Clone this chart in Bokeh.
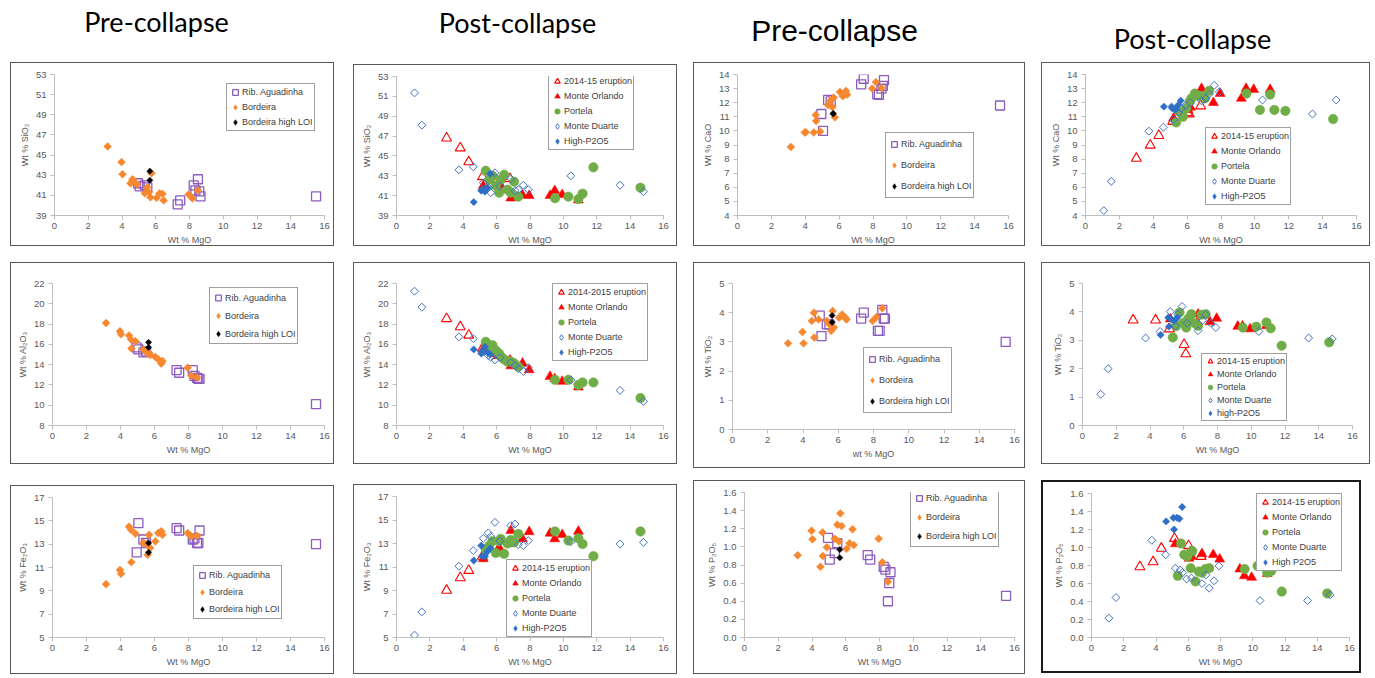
import math
from bokeh.plotting import figure
from bokeh.layouts import column, row
from bokeh.models import Range1d, FixedTicker, Legend, LegendItem, Label, NumeralTickFormatter
from bokeh.embed import file_html
from bokeh.resources import INLINE

nan = float("nan")

# ---------------- Pre-collapse data ----------------
RIB_MGO = [4.95, 5.05, 5.35, 5.5, 7.3, 7.45, 8.25, 8.35, 8.5, 8.58, 8.65, 15.5]
RIB_SIO2 = [42.2, 41.9, 42.0, 41.8, 40.1, 40.5, 42.0, 41.5, 42.6, 41.4, 40.9, 40.9]
RIB_CAO = [11.2, 10.0, 12.2, 12.1, 13.3, 13.7, 12.6, 12.55, 13.0, 13.2, 13.6, 11.8]
RIB_AL2O3 = [15.7, 15.5, 15.2, 15.3, 13.45, 13.2, 13.45, 12.9, 12.7, 12.6, 12.6, 10.1]
RIB_TIO2 = [3.9, 3.2, 3.6, 3.6, 3.8, 4.0, 3.38, 3.38, 4.1, 3.8, 3.8, 3.0]
RIB_FE2O3 = [12.3, 14.8, 13.4, 13.1, 14.37, 14.17, 13.4, 13.5, 13.1, 13.1, 14.17, 13.0]
RIB_P2O5 = [1.10, 0.86, 0.93, 1.04, 0.91, 0.86, 0.78, 0.75, 0.40, 0.60, 0.72, 0.46]

BOR_MGO = [3.15, 3.97, 4.03, 4.5, 4.62, 4.64, 4.88, 5.35, 5.5, 5.6, 5.68, 5.75, 6.05, 6.22, 6.4, 6.47, 7.95, 8.17, 8.5]
BOR_SIO2 = [45.85, 44.3, 43.1, 42.2, 42.6, 42.5, 42.1, 41.2, 41.8, 41.3, 40.8, 43.2, 40.75, 41.2, 41.15, 40.5, 41.1, 40.7, 41.5]
BOR_CAO = [8.86, 9.89, 9.9, 9.89, 11.13, 10.7, 9.96, 11.83, 12.18, 11.7, 12.36, 10.96, 12.76, 12.46, 12.83, 12.57, 13.0, 13.46, 13.04]
BOR_AL2O3 = [18.1, 17.3, 17.0, 16.87, 16.48, 15.6, 16.3, 15.5, 15.3, 15.1, 15.17, 14.95, 14.75, 14.52, 14.1, 14.36, 13.7, 12.9, 12.73]
BOR_TIO2 = [2.95, 3.34, 2.95, 3.72, 4.0, 3.15, 3.77, 3.72, 3.6, 3.38, 4.06, 3.49, 3.83, 3.94, 3.83, 3.77, 3.72, 3.85, 4.15]
BOR_FE2O3 = [9.57, 10.79, 10.47, 14.5, 14.23, 11.46, 13.9, 13.1, 13.0, 12.1, 13.8, 12.68, 13.24, 13.95, 14.1, 13.8, 13.95, 13.67, 13.72]
BOR_P2O5 = [0.907, 1.177, 1.084, 0.78, 1.16, 0.9, 0.995, 1.09, 1.245, 1.06, 1.37, 1.23, 0.978, 1.04, 1.195, 1.02, 1.09, 0.83, 0.615]

LOI_MGO = [5.65, 5.65]
LOI_SIO2 = [43.4, 42.5]
LOI_CAO = [11.25, 11.2]
LOI_AL2O3 = [16.2, 15.7]
LOI_TIO2 = [3.9, 3.67]
LOI_FE2O3 = [13.1, 12.3]
LOI_P2O5 = [0.97, 0.88]

# ---------------- Post-collapse data ----------------
ERU_MGO = [3.0, 3.82, 4.33, 5.15, 6.02, 6.12, 6.8]
ERU_SIO2 = [46.8, 45.8, 44.4, 42.9, 42.5, 42.3, 42.7]
ERU_CAO = [8.05, 8.98, 9.67, 10.67, 11.3, 11.2, 11.77]
ERU_AL2O3 = [18.53, 17.72, 16.9, 15.6, 15.1, 14.9, 14.4]
ERU_TIO2 = [3.71, nan, 3.71, 3.4, 2.85, 2.52, 3.6]
ERU_FE2O3 = [9.01, 10.08, 10.7, 11.9, 12.31, 12.2, 13.0]
ERU_P2O5 = [0.785, 0.84, 0.99, 1.10, 1.02, 0.95, 0.9]

MO_MGO = [5.2, 6.05, 6.2, 6.85, 7.55, 7.95, 9.2, 9.48, 9.93, 10.9]
MO_SIO2 = [42.0, 42.0, 42.1, 40.75, 41.05, 41.0, 41.0, 41.5, 41.1, 40.55]
MO_CAO = [10.9, 11.49, 11.67, 13.0, 12.0, 12.65, 12.3, 13.0, 12.93, 12.93]
MO_AL2O3 = [15.5, 15.2, 15.0, 13.87, 14.13, 13.48, 12.83, 12.6, 12.34, 11.78]
MO_TIO2 = [3.75, 3.6, 3.65, 3.92, 3.65, 3.77, 3.49, 3.5, 3.40, 3.51]
MO_FE2O3 = [11.69, 12.3, 12.54, 14.1, 13.39, 14.0, 13.87, 13.39, 13.75, 14.03]
MO_P2O5 = [1.04, 0.88, 0.9, 0.93, 0.92, 0.87, 0.76, 0.685, 0.667, 0.71]

POR_MGO = [5.35, 5.55, 5.75, 5.95, 6.15, 6.25, 6.45, 6.65, 6.85, 7.05, 7.3, 9.5, 10.3, 10.9, 11.15, 11.8, 14.62]
POR_SIO2 = [43.5, 42.6, 43.0, 42.0, 41.3, 42.6, 43.1, 41.6, 41.3, 42.4, 40.9, 40.75, 40.9, 40.65, 41.2, 43.85, 41.8]
POR_CAO = [10.6, 11.37, 11.0, 11.6, 12.07, 12.3, 12.65, 12.5, 12.47, 12.3, 12.84, 12.65, 11.49, 12.58, 11.49, 11.42, 10.84]
POR_AL2O3 = [16.25, 15.76, 15.92, 15.4, 15.1, 14.78, 14.52, 14.3, 14.3, 14.13, 13.8, 12.5, 12.5, 12.0, 12.24, 12.24, 10.7]
POR_TIO2 = [3.1, 3.5, 3.98, 3.6, 3.45, 3.75, 3.92, 3.6, 3.51, 3.9, 3.92, 3.45, 3.48, 3.63, 3.42, 2.81, 2.93]
POR_FE2O3 = [12.5, 12.8, 13.2, 12.2, 13.2, 13.39, 12.12, 13.0, 13.3, 13.1, 13.81, 14.03, 13.25, 13.44, 12.96, 11.92, 14.03]
POR_P2O5 = [0.685, 1.044, 0.92, 0.9, 0.77, 0.96, 0.622, 0.733, 0.72, 0.76, 0.77, 0.76, 0.796, 0.72, 0.74, 0.51, 0.49]

MD_MGO = [1.08, 1.52, 3.74, 4.6, 5.2, 5.5, 5.65, 5.9, 6.2, 6.85, 7.1, 7.3, 7.6, 7.9, 10.45, 13.4, 14.8]
MD_SIO2 = [51.35, 48.1, 43.6, 43.9, 42.3, 41.8, 41.3, 43.3, 42.0, 42.7, 41.5, 41.6, 42.05, 41.6, 43.0, 42.05, 41.4]
MD_CAO = [4.35, 6.42, 9.98, 10.26, 10.8, 11.3, 11.6, 11.8, 12.0, 12.14, 12.3, 12.6, 13.23, 12.77, 12.19, 11.2, 12.19]
MD_AL2O3 = [21.24, 19.67, 16.74, 16.58, 15.3, 14.9, 14.72, 14.46, 14.7, 14.2, 13.9, 13.6, 13.32, 13.7, 12.5, 11.46, 10.38]
MD_TIO2 = [1.1, 2.0, 3.08, 3.31, 4.01, 3.5, 3.91, 4.19, 3.6, 3.34, 3.7, 3.9, 3.6, 3.45, 3.31, 3.08, 3.05]
MD_FE2O3 = [5.2, 7.18, 11.07, 12.4, 13.44, 13.9, 13.6, 14.8, 13.2, 14.52, 14.66, 12.9, 12.82, 13.25, 13.16, 12.96, 13.1]
MD_P2O5 = [0.215, 0.444, 1.08, 0.92, 0.77, 0.75, 0.72, 0.65, 0.66, 0.6, 0.696, 0.548, 0.63, 0.796, 0.41, 0.41, 0.474]

HP_MGO = [4.63, 5.08, 5.12, 5.3, 5.45, 5.62]
HP_SIO2 = [40.35, 41.5, 41.6, 41.4, 41.8, 43.2]
HP_CAO = [11.72, 11.72, 11.6, 11.49, 11.8, 12.14]
HP_AL2O3 = [15.5, 15.1, 15.3, 15.76, 15.2, 15.0]
HP_TIO2 = [3.19, 3.8, 3.48, 3.72, 3.7, 3.8]
HP_FE2O3 = [11.55, 12.82, 11.92, 11.92, 12.31, 12.6]
HP_P2O5 = [1.29, 1.33, 1.2, 1.33, 1.32, 1.45]

TITLES = ["Pre-collapse", "Post-collapse", "Pre-collapse", "Post-collapse"]
PRE_LABELS = ["Rib. Aguadinha", "Bordeira", "Bordeira high LOI"]

# ---------------- styles ----------------
FONT = "Liberation Sans"
TXT = "#595959"
AXC = "#BFBFBF"
D45 = math.pi / 4

ST_RIB = dict(marker="square", size=9, fill_alpha=0, line_color="#8C5BBE", line_width=1.3)
ST_BOR = dict(marker="square", size=5.6, angle=D45, fill_color="#F7882F", line_color="#F7882F", line_width=0.5)
ST_LOI = dict(marker="square", size=4.4, angle=D45, fill_color="#000000", line_color="#000000", line_width=0.5)
ST_ERU = dict(marker="triangle", size=10, fill_alpha=0, line_color="#FF0000", line_width=1.1)
ST_MO = dict(marker="triangle", size=10, fill_color="#FF0000", line_color="#FF0000", line_width=0.5)
ST_POR = dict(marker="circle", size=9.5, fill_color="#70AD47", line_color="#70AD47", line_width=0.5)
ST_MD = dict(marker="square", size=5.6, angle=D45, fill_alpha=0, line_color="#4472C4", line_width=1.0)
ST_HP = dict(marker="square", size=5.2, angle=D45, fill_color="#2E6FC6", line_color="#2E6FC6", line_width=0.5)


def legend_style(st):
    s = dict(st)
    if "angle" in s:
        s.pop("angle")
        s["marker"] = "diamond"
    s.pop("size", None)
    return s


def make_panel(outer, inner, yr, ystep, ylabel, xlabel, series, leg, fmt=None,
               border="1px solid #595959"):
    ox0, oy0, ox1, oy1 = outer
    ix0, iy0, ix1, iy1 = inner
    p = figure(width=ox1 - ox0, height=oy1 - oy0,
               x_range=Range1d(0, 16), y_range=Range1d(yr[0], yr[1]),
               output_backend="svg", toolbar_location=None,
               min_border_left=ix0 - ox0, min_border_right=ox1 - ix1,
               min_border_top=iy0 - oy0, min_border_bottom=oy1 - iy1,
               background_fill_color="white", border_fill_color="white")
    p.outline_line_color = None
    p.grid.visible = False
    p.styles = {"border": border}
    n = int(round((yr[1] - yr[0]) / ystep))
    yt = [round(yr[0] + i * ystep, 3) for i in range(n + 1)]
    p.xaxis.ticker = FixedTicker(ticks=list(range(0, 17, 2)))
    p.yaxis.ticker = FixedTicker(ticks=yt)
    if fmt:
        p.yaxis.formatter = NumeralTickFormatter(format=fmt)
    for ax in (p.xaxis[0], p.yaxis[0]):
        ax.axis_line_color = AXC
        ax.major_tick_line_color = AXC
        ax.major_tick_out = 4
        ax.major_tick_in = 0
        ax.minor_tick_line_color = None
        ax.major_label_text_font = FONT
        ax.major_label_text_font_size = "9.5px"
        ax.major_label_text_color = TXT
        ax.axis_label_text_font = FONT
        ax.axis_label_text_font_size = "9px"
        ax.axis_label_text_font_style = "normal"
        ax.axis_label_text_color = TXT
        ax.axis_label_standoff = 3
    p.xaxis.major_label_standoff = 3
    p.yaxis.major_label_standoff = 4
    p.xaxis.axis_label = xlabel
    p.yaxis.axis_label = ylabel

    items = []
    for label, xs, ys, st in series:
        p.scatter(xs, ys, **st)
        # legend-only renderer (one undefined point, never drawn in the plot)
        rl = p.scatter([nan], [nan], size=6, **legend_style(st))
        items.append(LegendItem(label=label, renderers=[rl], index=0))

    bx0, by0, pitch = leg
    pad = 1
    nitem = len(items)
    H = 2 * pad + nitem * (pitch - 1) + (nitem - 1) * 1
    legend = Legend(items=items, location=(bx0 - ix0, iy1 - (by0 + H)),
                    padding=pad, spacing=1, margin=0,
                    glyph_width=14, glyph_height=pitch - 1, label_height=pitch - 1,
                    label_standoff=0,
                    label_text_font=FONT, label_text_font_size="9px",
                    label_text_color="#404040",
                    border_line_color="#404040", border_line_width=1.2,
                    background_fill_color="white", background_fill_alpha=1)
    p.add_layout(legend)
    return p


def pre_series(mg_r, y_r, mg_b, y_b, mg_l, y_l):
    return [(PRE_LABELS[0], mg_r, y_r, ST_RIB),
            (PRE_LABELS[1], mg_b, y_b, ST_BOR),
            (PRE_LABELS[2], mg_l, y_l, ST_LOI)]


def post_series(labels, ye, ym, yp, yd, yh):
    return [(labels[0], ERU_MGO, ye, ST_ERU),
            (labels[1], MO_MGO, ym, ST_MO),
            (labels[2], POR_MGO, yp, ST_POR),
            (labels[3], MD_MGO, yd, ST_MD),
            (labels[4], HP_MGO, yh, ST_HP)]


POST_A = ["2014-15 eruption", "Monte Orlando", "Portela", "Monte Duarte", "High-P2O5"]
POST_B = ["2014-2015 eruption", "Monte Orlando", "Portela", "Monte Duarte", "High-P2O5"]
POST_C = ["2014-15 eruption", "Monte Orlando", "Portela", "Monte Duarte", "high-P2O5"]
POST_D = ["2014-15 eruption", "Monte Orlando", "Portela", "Monte Duarte", "High P2O5"]

# Row 1
p11 = make_panel((10, 62, 334, 246), (53, 73, 323, 215), (39, 53), 2, "Wt % SiO₂", "Wt % MgO",
                 pre_series(RIB_MGO, RIB_SIO2, BOR_MGO, BOR_SIO2, LOI_MGO, LOI_SIO2), (225, 85, 15))
p12 = make_panel((353, 64, 677, 246), (395, 73, 662, 215), (39, 53), 2, "Wt % SiO₂", "Wt % MgO",
                 post_series(POST_A, ERU_SIO2, MO_SIO2, POR_SIO2, MD_SIO2, HP_SIO2), (547, 74, 15))
p13 = make_panel((693, 62, 1025, 246), (736, 72, 1007, 215), (4, 14), 1, "Wt % CaO", "Wt % MgO",
                 pre_series(RIB_MGO, RIB_CAO, BOR_MGO, BOR_CAO, LOI_MGO, LOI_CAO), (884, 134, 21))
p14 = make_panel((1041, 62, 1370, 246), (1084, 72, 1355, 215), (4, 14), 1, "Wt % CaO", "Wt % MgO",
                 post_series(POST_A, ERU_CAO, MO_CAO, POR_CAO, MD_CAO, HP_CAO), (1204, 129, 15))
# Row 2
p21 = make_panel((10, 262, 334, 464), (51, 280, 323, 424), (8, 22), 2, "Wt % Al₂O₃", "Wt % MgO",
                 pre_series(RIB_MGO, RIB_AL2O3, BOR_MGO, BOR_AL2O3, LOI_MGO, LOI_AL2O3), (208, 288, 18))
p22 = make_panel((353, 262, 677, 464), (395, 282, 662, 425), (8, 22), 2, "Wt % Al₂O₃", "Wt % MgO",
                 post_series(POST_B, ERU_AL2O3, MO_AL2O3, POR_AL2O3, MD_AL2O3, HP_AL2O3), (551, 285, 15))
p23 = make_panel((693, 262, 1025, 468), (731, 281, 1013, 428), (0, 5), 1, "Wt % TiO₂", "wt % MgO",
                 pre_series(RIB_MGO, RIB_TIO2, BOR_MGO, BOR_TIO2, LOI_MGO, LOI_TIO2), (862, 348, 21))
p24 = make_panel((1041, 262, 1370, 464), (1081, 282, 1351, 426), (0, 5), 1, "Wt % TiO₂", "Wt % MgO",
                 post_series(POST_C, ERU_TIO2, MO_TIO2, POR_TIO2, MD_TIO2, HP_TIO2), (1200, 356, 13))
# Row 3
p31 = make_panel((10, 485, 334, 674), (51, 495, 323, 637), (5, 17), 2, "Wt % Fe₂O₃", "Wt % MgO",
                 pre_series(RIB_MGO, RIB_FE2O3, BOR_MGO, BOR_FE2O3, LOI_MGO, LOI_FE2O3), (192, 567, 17))
p32 = make_panel((353, 484, 677, 674), (395, 495, 662, 637), (5, 17), 2, "Wt % Fe₂O₃", "Wt % MgO",
                 post_series(POST_A, ERU_FE2O3, MO_FE2O3, POR_FE2O3, MD_FE2O3, HP_FE2O3), (505, 561, 15))
p33 = make_panel((693, 480, 1025, 674), (743, 491, 1013, 641), (0, 1.6), 0.2, "Wt % P₂O₅", "Wt % MgO",
                 pre_series(RIB_MGO, RIB_P2O5, BOR_MGO, BOR_P2O5, LOI_MGO, LOI_P2O5), (909, 493, 19),
                 fmt="0.0")
p34 = make_panel((1041, 480, 1361, 673), (1089, 491, 1347, 635), (0, 1.6), 0.2, "Wt % P₂O₅", "Wt % MgO",
                 post_series(POST_D, ERU_P2O5, MO_P2O5, POR_P2O5, MD_P2O5, HP_P2O5), (1254, 493, 15),
                 fmt="0.0", border="2px solid #1a1a1a")

# title strip
tf = figure(width=1375, height=60, x_range=Range1d(0, 1375), y_range=Range1d(0, 60),
            output_backend="svg", toolbar_location=None,
            x_axis_location=None, y_axis_location=None,
            min_border_left=0, min_border_right=0, min_border_top=0, min_border_bottom=0)
tf.outline_line_color = None
tf.grid.visible = False
title_pos = [(156, 21, "Lato", "27px"), (517, 22, "Lato", "27px"),
             (834, 30, "Liberation Sans", "30px"), (1192, 38, "Lato", "27px")]
for (cx, cy, fnt, fs), t in zip(title_pos, TITLES):
    tf.add_layout(Label(x=cx, y=60 - cy, x_units="data", y_units="data", text=t,
                        text_align="center", text_baseline="middle",
                        text_font=fnt, text_font_size=fs, text_color="#000000"))


def place(figs, row_top):
    prev_right = 0
    for f, (ox0, oy0) in figs:
        f.margin = (oy0 - row_top, 0, 0, ox0 - prev_right)
        prev_right = ox0 + f.width


place([(p11, (10, 62)), (p12, (353, 64)), (p13, (693, 62)), (p14, (1041, 62))], 60)
place([(p21, (10, 262)), (p22, (353, 262)), (p23, (693, 262)), (p24, (1041, 262))], 246)
place([(p31, (10, 485)), (p32, (353, 484)), (p33, (693, 480)), (p34, (1041, 480))], 468)

layout = column(tf, row(p11, p12, p13, p14), row(p21, p22, p23, p24), row(p31, p32, p33, p34))

open("out.html", "w").write(file_html(layout, INLINE))
